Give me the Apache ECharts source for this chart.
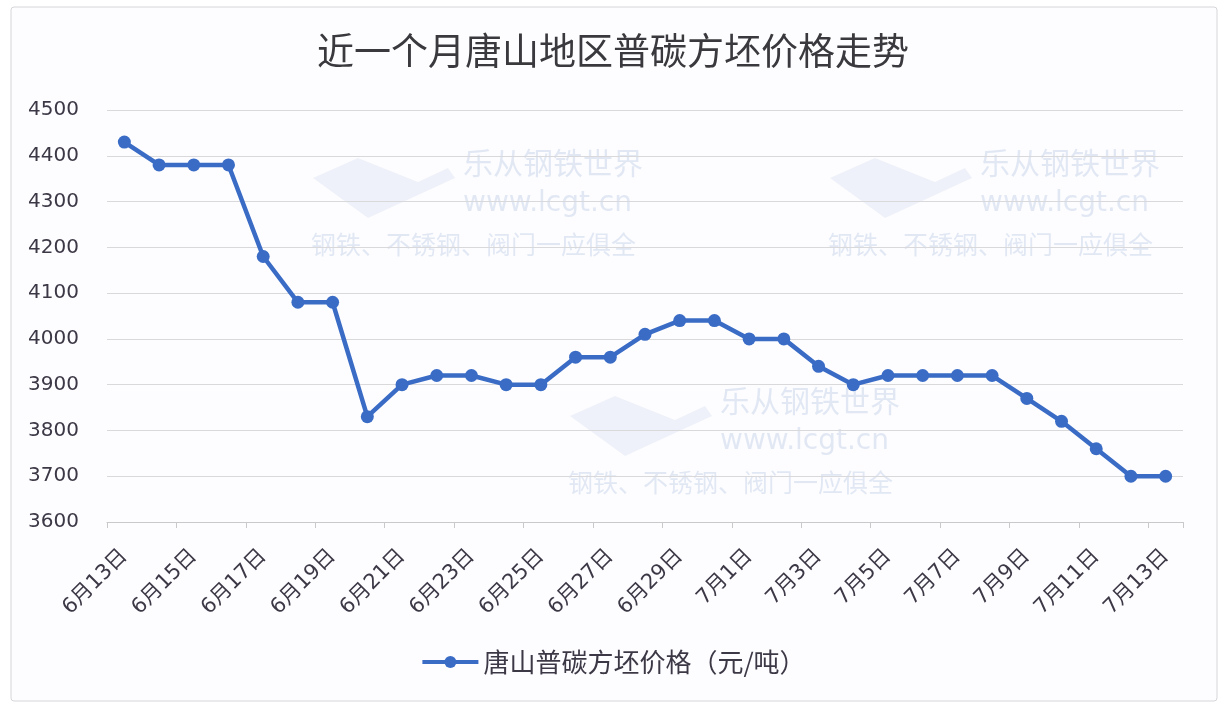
<!DOCTYPE html>
<html>
<head>
<meta charset="utf-8">
<script src="https://cdn.jsdelivr.net/npm/echarts@6/dist/echarts.min.js"></script>
<style>
html,body{margin:0;padding:0;background:#ffffff;}
#chart{width:1226px;height:714px;}
</style>
</head>
<body>
<div id="chart"></div>
<script>
var titleText = '近一个月唐山地区普碳方坯价格走势';
var seriesName = '唐山普碳方坯价格（元/吨）';
var categories = ['6月13日','6月14日','6月15日','6月16日','6月17日','6月18日','6月19日','6月20日','6月21日','6月22日','6月23日','6月24日','6月25日','6月26日','6月27日','6月28日','6月29日','6月30日','7月1日','7月2日','7月3日','7月4日','7月5日','7月6日','7月7日','7月8日','7月9日','7月10日','7月11日','7月12日','7月13日'];
var prices = [4430,4380,4380,4380,4180,4080,4080,3830,3900,3920,3920,3900,3900,3960,3960,4010,4040,4040,4000,4000,3940,3900,3920,3920,3920,3920,3870,3820,3760,3700,3700];
var yMin = 3600, yMax = 4500, yStep = 100;
var wmLines = ['乐从钢铁世界','www.lcgt.cn','钢铁、不锈钢、阀门一应俱全'];

var cjk = '"Noto Sans CJK SC", "Noto Sans", sans-serif';
var num = '"DejaVu Sans", "Noto Sans CJK SC", sans-serif';
var textColor = '#3d3846';
var wmColor = 'rgba(170,192,222,0.33)';

function watermark(x, y) {
  return [
    {type:'polygon', z:-1, shape:{points:[[x-150,y+18],[x-105,y-2],[x-45,y+22],[x-15,y+8],[x-8,y+18],[x-95,y+58]]}, style:{fill:'rgba(205,216,234,0.3)'}},
    {type:'text', z:-1, left:x, top:y-12, style:{text:wmLines[0], font:'30px ' + cjk, fill:wmColor}},
    {type:'text', z:-1, left:x, top:y+30, style:{text:wmLines[1], font:'28px "DejaVu Sans", sans-serif', fill:wmColor}},
    {type:'text', z:-1, left:x-152, top:y+72, style:{text:wmLines[2], font:'25px ' + cjk, fill:wmColor}}
  ];
}

var chart = echarts.init(document.getElementById('chart'), null, {renderer:'canvas'});
var graphics = [
  {type:'rect', z:-2, shape:{x:11, y:7, width:1206, height:694, r:3}, style:{fill:'#fdfdff', stroke:'#d6d6da', lineWidth:1}}
].concat(watermark(463,160), watermark(980,160), watermark(720,398));

chart.setOption({
  backgroundColor:'#ffffff',
  animation:false,
  graphic: graphics,
  title:{
    text:titleText, left:'center', top:27,
    textStyle:{fontFamily:cjk, fontSize:37, fontWeight:'normal', color:'#3a3a3e'}
  },
  legend:{
    data:[seriesName], left:'center', top:644,
    itemWidth:56, itemHeight:15, itemGap:10,
    lineStyle:{width:4},
    textStyle:{fontFamily:cjk, fontSize:26, color:textColor}
  },
  grid:{left:107, right:43, top:110, bottom:192, containLabel:false},
  xAxis:{
    type:'category', data:categories, boundaryGap:true,
    axisLine:{lineStyle:{color:'#c9c9cc', width:1}},
    axisTick:{show:true, interval:1, length:6, lineStyle:{color:'#c9c9cc'}},
    axisLabel:{interval:1, rotate:45, margin:31, fontFamily:num, fontSize:21, color:textColor}
  },
  yAxis:{
    type:'value', min:yMin, max:yMax, interval:yStep,
    axisLine:{show:false}, axisTick:{show:false},
    splitLine:{lineStyle:{color:'#d9d9dc', width:1}},
    axisLabel:{margin:28, fontFamily:num, fontSize:20, color:textColor, formatter:function(v){return String(v);}}
  },
  series:[{
    name:seriesName, type:'line', data:prices,
    symbol:'circle', symbolSize:13,
    lineStyle:{color:'#3a6cc6', width:4.5},
    itemStyle:{color:'#3a6cc6'}
  }]
});
</script>
</body>
</html>
